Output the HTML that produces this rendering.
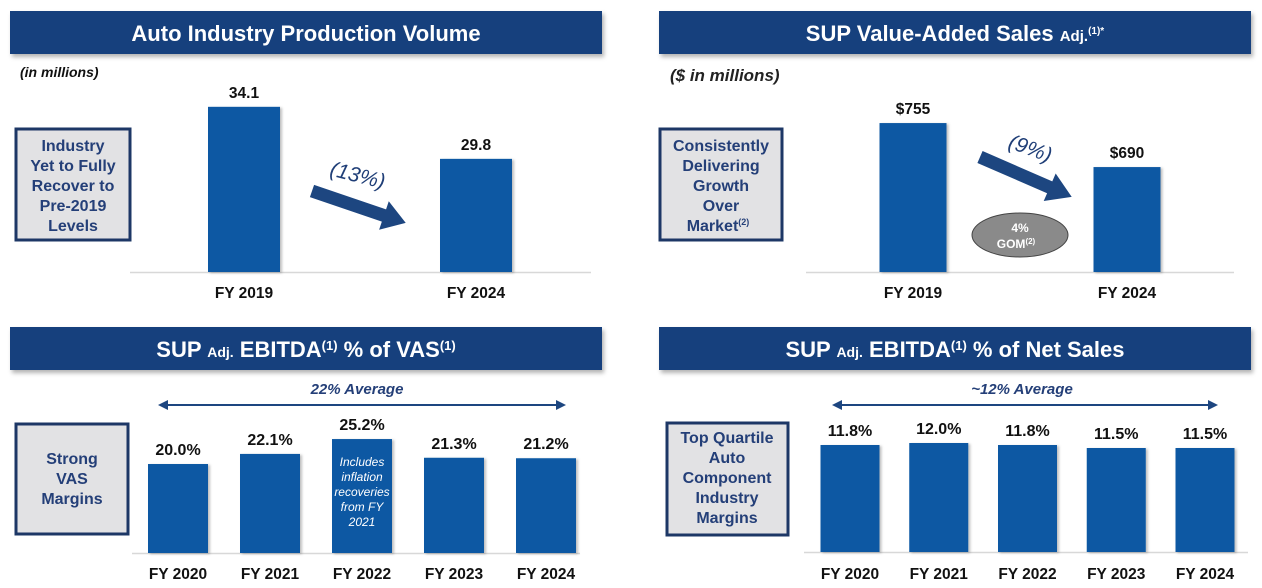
<!DOCTYPE html>
<html><head><meta charset="utf-8">
<style>
html,body{margin:0;padding:0;background:#fff;}
svg{display:block;font-family:"Liberation Sans",Arial,sans-serif;}
</style></head>
<body>
<svg id="s" width="1262" height="588" viewBox="0 0 1262 588" xmlns="http://www.w3.org/2000/svg">
<defs>
<filter id="sh" x="-5%" y="-20%" width="110%" height="160%"><feDropShadow dx="2" dy="3" stdDeviation="2" flood-color="#000" flood-opacity="0.3"/></filter>
<filter id="bs" x="-10%" y="-5%" width="130%" height="110%"><feDropShadow dx="2" dy="1" stdDeviation="1.2" flood-color="#000" flood-opacity="0.25"/></filter>
</defs>

<g>
<rect x="10" y="11" width="592" height="43" fill="#14407d" filter="url(#sh)"/>
<text x="306" y="41" text-anchor="middle" fill="#fff" font-size="22" font-weight="bold">Auto Industry Production Volume</text>
</g>
<g>
<rect x="659" y="11" width="592" height="43" fill="#14407d" filter="url(#sh)"/>
<text x="955" y="41" text-anchor="middle" fill="#fff" font-size="22" font-weight="bold">SUP Value-Added Sales <tspan font-size="15">Adj.</tspan><tspan font-size="10" dy="-7">(1)*</tspan></text>
</g>
<g>
<rect x="10" y="327" width="592" height="43" fill="#14407d" filter="url(#sh)"/>
<text x="306" y="357" text-anchor="middle" fill="#fff" font-size="22" font-weight="bold">SUP <tspan font-size="14">Adj.</tspan> EBITDA<tspan font-size="13" dy="-7">(1)</tspan><tspan dy="7"> % of VAS</tspan><tspan font-size="13" dy="-7">(1)</tspan></text>
</g>
<g>
<rect x="659" y="327" width="592" height="43" fill="#14407d" filter="url(#sh)"/>
<text x="955" y="357" text-anchor="middle" fill="#fff" font-size="22" font-weight="bold">SUP <tspan font-size="14">Adj.</tspan> EBITDA<tspan font-size="13" dy="-7">(1)</tspan><tspan dy="7"> % of Net Sales</tspan></text>
</g>

<text x="20" y="77" font-size="14" font-weight="bold" font-style="italic" fill="#111">(in millions)</text>
<text x="670" y="81" font-size="17" font-weight="bold" font-style="italic" fill="#222">($ in millions)</text>

<g>
<rect x="16" y="129" width="114" height="111" fill="#e2e2e4" stroke="#1d3766" stroke-width="3"/>
<text text-anchor="middle" font-size="16" font-weight="bold" fill="#243f78">
<tspan x="73" y="151">Industry</tspan><tspan x="73" y="171">Yet to Fully</tspan><tspan x="73" y="191">Recover to</tspan><tspan x="73" y="211">Pre-2019</tspan><tspan x="73" y="231">Levels</tspan></text>
</g>
<g>
<rect x="660" y="129" width="122" height="111" fill="#e2e2e4" stroke="#1d3766" stroke-width="3"/>
<text text-anchor="middle" font-size="16" font-weight="bold" fill="#243f78">
<tspan x="721" y="151">Consistently</tspan><tspan x="721" y="171">Delivering</tspan><tspan x="721" y="191">Growth</tspan><tspan x="721" y="211">Over</tspan><tspan x="718" y="231">Market</tspan><tspan font-size="9" dy="-6">(2)</tspan></text>
</g>
<g>
<rect x="16" y="424" width="112" height="110" fill="#e2e2e4" stroke="#1d3766" stroke-width="3"/>
<text text-anchor="middle" font-size="16" font-weight="bold" fill="#243f78">
<tspan x="72" y="464">Strong</tspan><tspan x="72" y="484">VAS</tspan><tspan x="72" y="504">Margins</tspan></text>
</g>
<g>
<rect x="667" y="423" width="121" height="112" fill="#e2e2e4" stroke="#1d3766" stroke-width="3"/>
<text text-anchor="middle" font-size="16" font-weight="bold" fill="#243f78">
<tspan x="727" y="443">Top Quartile</tspan><tspan x="727" y="463">Auto</tspan><tspan x="727" y="483">Component</tspan><tspan x="727" y="503">Industry</tspan><tspan x="727" y="523">Margins</tspan></text>
</g>

<g transform="translate(312,191) rotate(18.8)">
<polygon points="0,-6.5 76,-6.5 76,-15 99,0 76,15 76,6.5 0,6.5" fill="#1d4680"/>
</g>
<text x="0" y="0" transform="translate(356,182) rotate(14)" font-size="21" font-style="italic" fill="#1f3e77" text-anchor="middle">(13%)</text>
<g transform="translate(980,157) rotate(23.5)">
<polygon points="0,-6.5 76,-6.5 76,-15 100,0 76,15 76,6.5 0,6.5" fill="#1d4680"/>
</g>
<text x="0" y="0" transform="translate(1028,155) rotate(20)" font-size="21" font-style="italic" fill="#1f3e77" text-anchor="middle">(9%)</text>
<g>
<ellipse cx="1020" cy="235" rx="48" ry="22" fill="#8a8a8a" stroke="#444" stroke-width="1"/>
<text text-anchor="middle" font-size="12" font-weight="bold" fill="#fff"><tspan x="1020" y="232">4%</tspan><tspan x="1016" y="248">GOM</tspan><tspan font-size="8" dy="-4">(2)</tspan></text>
</g>

<g>
<text x="357" y="394" text-anchor="middle" font-size="15" font-weight="bold" font-style="italic" fill="#243f78">22% Average</text>
<line x1="164" y1="405" x2="560" y2="405" stroke="#1d4680" stroke-width="2"/>
<polygon points="158,405 168,400 168,410" fill="#1d4680"/><polygon points="566,405 556,400 556,410" fill="#1d4680"/>
</g>
<g>
<text x="1022" y="394" text-anchor="middle" font-size="15" font-weight="bold" font-style="italic" fill="#243f78">~12% Average</text>
<line x1="838" y1="405" x2="1212" y2="405" stroke="#1d4680" stroke-width="2"/>
<polygon points="832,405 842,400 842,410" fill="#1d4680"/><polygon points="1218,405 1208,400 1208,410" fill="#1d4680"/>
</g>

<g id="charts"></g>
</svg>

<script>
// Chart 1: production volume
const prodCategories = ["FY 2019", "FY 2024"];
const prodValues = [34.1, 29.8];
const prodLabels = ["34.1", "29.8"];
// Chart 2: value-added sales
const vasCategories = ["FY 2019", "FY 2024"];
const vasValues = [755, 690];
const vasLabels = ["$755", "$690"];
// Chart 3: EBITDA % of VAS
const ebVasCategories = ["FY 2020", "FY 2021", "FY 2022", "FY 2023", "FY 2024"];
const ebVasValues = [20.0, 22.1, 25.2, 21.3, 21.2];
const ebVasLabels = ["20.0%", "22.1%", "25.2%", "21.3%", "21.2%"];
// Chart 4: EBITDA % of Net Sales
const ebNsCategories = ["FY 2020", "FY 2021", "FY 2022", "FY 2023", "FY 2024"];
const ebNsValues = [11.8, 12.0, 11.8, 11.5, 11.5];
const ebNsLabels = ["11.8%", "12.0%", "11.8%", "11.5%", "11.5%"];

const NS = "http://www.w3.org/2000/svg";
const root = document.getElementById("charts");
function mk(tag, attrs, parent) {
  const e = document.createElementNS(NS, tag);
  for (const k in attrs) e.setAttribute(k, attrs[k]);
  parent.appendChild(e);
  return e;
}
function drawChart(cfg) {
  const g = mk("g", {}, root);
  
  
  const y = v => cfg.base - cfg.ppu * (v - cfg.vmin);
  const base = mk("line", {x1: cfg.lx1, x2: cfg.lx2, y1: cfg.base + 0.5, y2: cfg.base + 0.5, stroke: "#d8d8d8", "stroke-width": 1.5}, g);
  
  
  const n = cfg.cats.length;
  const step = (cfg.x1 - cfg.x0) / (n - 1);
  cfg.vals.forEach((v, i) => {
    const cx = cfg.x0 + step * i;
    const top = y(v);
    const r = mk("rect", {x: cx - cfg.bw / 2, y: top, width: cfg.bw, height: cfg.base - top, fill: "#0a59a3", filter: "url(#bs)"}, g);
    
    
    const t = mk("text", {x: cx, y: top - 9, "text-anchor": "middle", "font-size": cfg.fs, "font-weight": "bold", fill: "#111"}, g);
    t.textContent = cfg.labels[i];
    
    
    const c = mk("text", {x: cx, y: cfg.catY, "text-anchor": "middle", "font-size": 15.5, "font-weight": "bold", fill: "#111"}, g);
    c.textContent = cfg.cats[i];
    
    
    if (cfg.note && i === cfg.note.index) {
      const nt = mk("text", {"text-anchor": "middle", "font-size": 12, "font-style": "italic", fill: "#fff"}, g);
      
      
      cfg.note.lines.forEach((ln, j) => {
        const sp = mk("tspan", {x: cx, y: top + 27 + j * 15}, nt);
        sp.textContent = ln;
      });
    }
  });
}
drawChart({name: "chart-production-volume", cats: prodCategories, vals: prodValues, labels: prodLabels,
  base: 272, ppu: 12.1, vmin: 20.45, x0: 244, x1: 476, bw: 72, lx1: 130, lx2: 591, catY: 298, fs: 15.5});
drawChart({name: "chart-value-added-sales", cats: vasCategories, vals: vasValues, labels: vasLabels,
  base: 272, ppu: 0.677, vmin: 535, x0: 913, x1: 1127, bw: 67, lx1: 806, lx2: 1234, catY: 298, fs: 15.5});
drawChart({name: "chart-ebitda-vas", cats: ebVasCategories, vals: ebVasValues, labels: ebVasLabels,
  base: 553, ppu: 4.8, vmin: 1.46, x0: 178, x1: 546, bw: 60, lx1: 132, lx2: 580, catY: 579, fs: 16,
  note: {index: 2, lines: ["Includes", "inflation", "recoveries", "from FY", "2021"]}});
drawChart({name: "chart-ebitda-net-sales", cats: ebNsCategories, vals: ebNsValues, labels: ebNsLabels,
  base: 552, ppu: 10, vmin: 1.1, x0: 850, x1: 1205, bw: 59, lx1: 804, lx2: 1248, catY: 579, fs: 16});
</script>
</body></html>
